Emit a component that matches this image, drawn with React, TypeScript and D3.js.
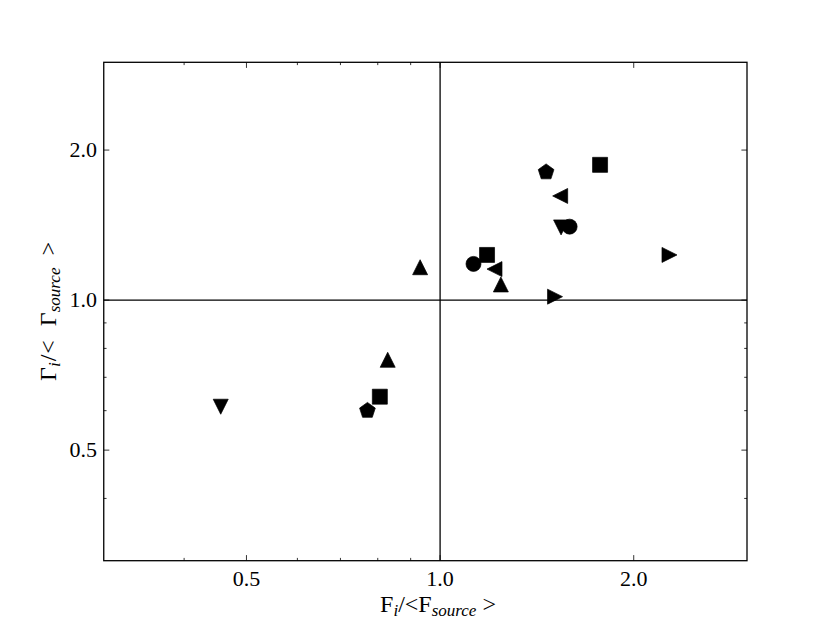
import React from "react";
import * as d3 from "d3";

const W = 830;
const H = 623;
const LEFT = 103.75;
const RIGHT = 747;
const TOP = 62.3;
const BOTTOM = 560.7;

const xDomain = [0.3, 3.0];
const yDomain = [0.3, 3.0];
const majorTicks = [0.5, 1.0, 2.0];
const majorTickLabels = ["0.5", "1.0", "2.0"];
const minorTicks = [0.4, 0.6, 0.7, 0.8, 0.9];

// series: F_i/<F_source>, Gamma_i/<Gamma_source>
const downF = [1.542, 0.456];
const downG = [1.399, 0.611];
const circleF = [1.59, 1.127];
const circleG = [1.404, 1.182];
const squareF = [1.773, 1.183, 0.806];
const squareG = [1.868, 1.232, 0.64];
const pentagonF = [1.4615, 0.771];
const pentagonG = [1.806, 0.6];
const upF = [0.931, 1.243, 0.829];
const upG = [1.164, 1.075, 0.759];
const leftF = [1.537, 1.215];
const leftG = [1.618, 1.154];
const rightF = [2.273, 1.509];
const rightG = [1.232, 1.016];

const seriesList = [
  { shape: "down", f: downF, g: downG },
  { shape: "circle", f: circleF, g: circleG },
  { shape: "square", f: squareF, g: squareG },
  { shape: "pentagon", f: pentagonF, g: pentagonG },
  { shape: "up", f: upF, g: upG },
  { shape: "left", f: leftF, g: leftG },
  { shape: "right", f: rightF, g: rightG },
];

const MS = 15; // marker size px

function markerPath(shape: string, s: number): string {
  const h = s / 2;
  switch (shape) {
    case "circle": {
      const p = d3.path();
      p.arc(0, 0, h, 0, Math.PI * 2);
      return p.toString();
    }
    case "square":
      return `M${-h},${-h}L${h},${-h}L${h},${h}L${-h},${h}Z`;
    case "up":
      return `M0,${-h}L${h},${h}L${-h},${h}Z`;
    case "down":
      return `M0,${h}L${h},${-h}L${-h},${-h}Z`;
    case "left":
      return `M${-h},0L${h},${-h}L${h},${h}Z`;
    case "right":
      return `M${h},0L${-h},${-h}L${-h},${h}Z`;
    case "pentagon": {
      const r = h * 1.1;
      const pts = d3.range(5).map((i) => {
        const a = -Math.PI / 2 + (i * 2 * Math.PI) / 5;
        return [r * Math.cos(a), r * Math.sin(a)];
      });
      return "M" + pts.map((q) => q.join(",")).join("L") + "Z";
    }
  }
  return "";
}

export default function App() {
  const x = d3.scaleLog().domain(xDomain).range([LEFT, RIGHT]);
  const y = d3.scaleLog().domain(yDomain).range([BOTTOM, TOP]);
  const font = "'Liberation Serif', 'DejaVu Serif', serif";
  const majLen = 5.6;
  const minLen = 2.8;
  const tickStroke = "#000";

  return (
    <div style={{ position: "absolute", left: 0, top: 0 }}>
      <svg width={W} height={H} style={{ display: "block", background: "#fff" }}>
        <rect x={0} y={0} width={W} height={H} fill="#fff" />
        {/* reference lines */}
        <line x1={x(1)} x2={x(1)} y1={TOP} y2={BOTTOM} stroke="#000" strokeWidth={1.3} />
        <line x1={LEFT} x2={RIGHT} y1={y(1)} y2={y(1)} stroke="#000" strokeWidth={1.3} />

        {/* ticks */}
        {majorTicks.map((t, i) => (
          <g key={"xm" + i}>
            <line x1={x(t)} x2={x(t)} y1={BOTTOM} y2={BOTTOM - majLen} stroke={tickStroke} strokeWidth={0.8} />
            <line x1={x(t)} x2={x(t)} y1={TOP} y2={TOP + majLen} stroke={tickStroke} strokeWidth={0.8} />
            <line y1={y(t)} y2={y(t)} x1={LEFT} x2={LEFT + majLen} stroke={tickStroke} strokeWidth={0.8} />
            <line y1={y(t)} y2={y(t)} x1={RIGHT} x2={RIGHT - majLen} stroke={tickStroke} strokeWidth={0.8} />
          </g>
        ))}
        {minorTicks.map((t, i) => (
          <g key={"xn" + i}>
            <line x1={x(t)} x2={x(t)} y1={BOTTOM} y2={BOTTOM - minLen} stroke={tickStroke} strokeWidth={0.8} />
            <line x1={x(t)} x2={x(t)} y1={TOP} y2={TOP + minLen} stroke={tickStroke} strokeWidth={0.8} />
            <line y1={y(t)} y2={y(t)} x1={LEFT} x2={LEFT + minLen} stroke={tickStroke} strokeWidth={0.8} />
            <line y1={y(t)} y2={y(t)} x1={RIGHT} x2={RIGHT - minLen} stroke={tickStroke} strokeWidth={0.8} />
          </g>
        ))}

        {/* markers */}
        {seriesList.map((s, si) => (
          <g key={"s" + si}>
            {s.f.map((fv, i) => (
              <path
                key={i}
                d={markerPath(s.shape, MS)}
                transform={`translate(${x(fv)},${y(s.g[i])})`}
                fill="#000"
                stroke="#000"
                strokeWidth={0.7}
              />
            ))}
          </g>
        ))}

        {/* frame */}
        <rect x={LEFT} y={TOP} width={RIGHT - LEFT} height={BOTTOM - TOP} fill="none" stroke="#000" strokeWidth={1.3} />

        {/* tick labels */}
        {majorTicks.map((t, i) => (
          <text key={"xl" + i} x={x(t)} y={586} textAnchor="middle" fontFamily={font} fontSize={22} fill="#000">
            {majorTickLabels[i]}
          </text>
        ))}
        {majorTicks.map((t, i) => (
          <text key={"yl" + i} x={97} y={y(t) + 7.3} textAnchor="end" fontFamily={font} fontSize={22} fill="#000">
            {majorTickLabels[i]}
          </text>
        ))}

        {/* axis labels */}
        <text x={438} y={612} textAnchor="middle" fontFamily={font} fontSize={24} fill="#000">
          F
          <tspan fontSize={17} fontStyle="italic" dy={4}>i</tspan>
          <tspan dy={-4}>/&lt;F</tspan>
          <tspan fontSize={17} fontStyle="italic" dy={4}>source</tspan>
          <tspan dy={-4}> &gt;</tspan>
        </text>
        <text
          transform={`translate(56,${(TOP + BOTTOM) / 2}) rotate(-90)`}
          textAnchor="middle"
          fontFamily={font}
          fontSize={24}
          fill="#000"
        >
          Γ
          <tspan fontSize={17} fontStyle="italic" dy={4}>i</tspan>
          <tspan dy={-4} dx={1}>/</tspan>
          <tspan dx={1}>&lt;</tspan>
          <tspan dx={14}>Γ</tspan>
          <tspan fontSize={17} fontStyle="italic" dy={4}>source</tspan>
          <tspan dy={-4} dx={12}>&gt;</tspan>
        </text>
      </svg>
    </div>
  );
}
